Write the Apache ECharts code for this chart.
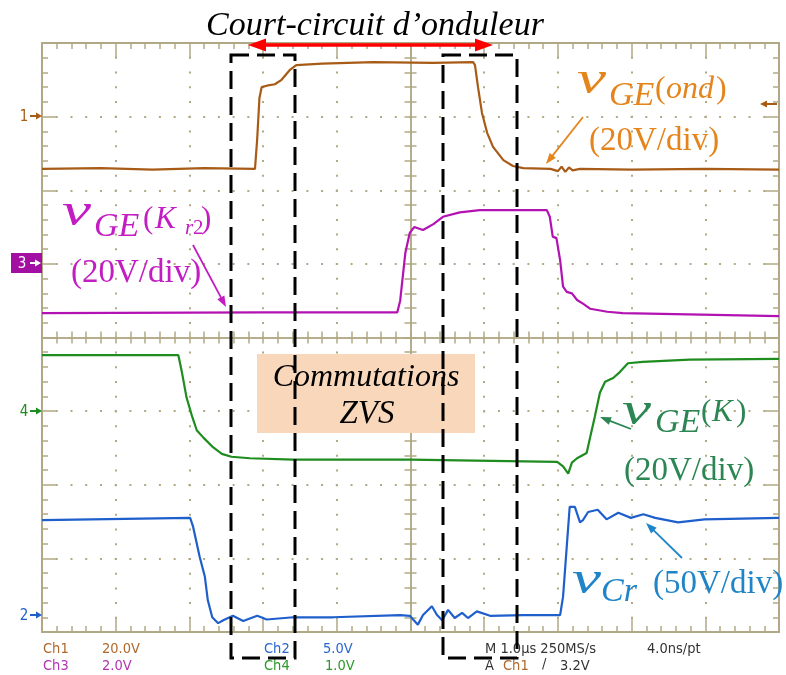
<!DOCTYPE html>
<html>
<head>
<meta charset="utf-8">
<script src="https://cdn.jsdelivr.net/npm/echarts@6/dist/echarts.min.js"></script>
<style>
  html, body { margin: 0; padding: 0; background: #fff; }
  #chart { width: 786px; height: 675px; }
</style>
</head>
<body>
<div id="chart"></div>
<script>
// x: time in us (1 us/div, trigger at 0), y: screen divisions from centre
const ch1 = [[-5, 2.29], [-4.2, 2.30], [-3.5, 2.28], [-2.8, 2.30], [-2.11, 2.29], [-2.08, 2.7], [-2.05, 3.25],
  [-2.02, 3.40], [-1.95, 3.42], [-1.84, 3.44], [-1.75, 3.50], [-1.64, 3.63], [-1.55, 3.70], [-1.2, 3.72],
  [-0.5, 3.74], [0.3, 3.73], [0.85, 3.74], [0.875, 3.70], [0.916, 3.40], [0.97, 3.05], [1.04, 2.78],
  [1.12, 2.59], [1.26, 2.41], [1.39, 2.33], [1.53, 2.30], [1.9, 2.29], [2.0, 2.26], [2.05, 2.32],
  [2.1, 2.25], [2.15, 2.31], [2.2, 2.27], [2.3, 2.29], [3, 2.28], [4, 2.29], [5, 2.28]];
const ch3 = [[-5, 0.33], [-2, 0.34], [-0.18, 0.34], [-0.14, 0.50], [-0.07, 1.15], [-0.01, 1.42], [0.05, 1.50],
  [0.17, 1.46], [0.31, 1.54], [0.44, 1.64], [0.67, 1.70], [0.94, 1.73], [1.85, 1.73], [1.89, 1.64],
  [1.93, 1.37], [1.98, 1.35], [2.03, 1.05], [2.07, 0.69], [2.12, 0.62], [2.19, 0.60], [2.26, 0.51],
  [2.34, 0.46], [2.44, 0.39], [2.67, 0.35], [2.88, 0.33], [5, 0.29]];
const ch4 = [[-5, -0.24], [-3.15, -0.24], [-3.10, -0.48], [-3.04, -0.81], [-2.97, -1.05], [-2.90, -1.26],
  [-2.81, -1.36], [-2.68, -1.49], [-2.56, -1.58], [-2.43, -1.62], [-2.18, -1.64], [-1.59, -1.66], [0, -1.66],
  [1.99, -1.69], [2.07, -1.75], [2.14, -1.85], [2.19, -1.70], [2.26, -1.64], [2.39, -1.57], [2.43, -1.39],
  [2.50, -1.08], [2.57, -0.75], [2.64, -0.60], [2.75, -0.55], [2.84, -0.47], [2.95, -0.35], [3.15, -0.33],
  [3.79, -0.30], [5, -0.29]];
const ch2 = [[-5, -2.48], [-2.99, -2.45], [-2.95, -2.57], [-2.86, -2.98], [-2.79, -3.25], [-2.75, -3.57],
  [-2.69, -3.80], [-2.61, -3.88], [-2.54, -3.84], [-2.41, -3.78], [-2.27, -3.85], [-2.08, -3.78],
  [-1.95, -3.83], [-1.59, -3.80], [-1.05, -3.80], [-0.14, -3.77], [-0.01, -3.78], [0.10, -3.90],
  [0.17, -3.77], [0.29, -3.65], [0.36, -3.77], [0.43, -3.84], [0.51, -3.70], [0.60, -3.81], [0.70, -3.74],
  [0.78, -3.81], [0.90, -3.72], [1.08, -3.78], [1.53, -3.77], [2.03, -3.77], [2.07, -3.52], [2.12, -2.84],
  [2.16, -2.30], [2.23, -2.30], [2.30, -2.51], [2.34, -2.48], [2.41, -2.37], [2.54, -2.34], [2.66, -2.47],
  [2.82, -2.38], [2.99, -2.45], [3.16, -2.40], [3.32, -2.45], [3.63, -2.51], [3.99, -2.47], [5, -2.45]];

const xRange = [-5, 5];
const yRange = [-4, 4];

const traceColors = ['#a75b16', '#1f5fcc', '#b312b3', '#1f8c1f'];
const traces = [ch1, ch2, ch3, ch4];

const gridColor = '#b1a985';
const SERIF = '"Liberation Serif", "Times New Roman", serif';
const SCOPE = '"DejaVu Sans Condensed", "DejaVu Sans", sans-serif';

let chart = echarts.init(document.getElementById('chart'));

function axis(isX, gridIndex, position, onZero, inside, len, minorLen, width) {
  let range = isX ? xRange : yRange;
  return {
    type: 'value', gridIndex: gridIndex, position: position,
    min: range[0], max: range[1], interval: 1,
    axisLine: { show: true, onZero: onZero, lineStyle: { color: gridColor, width: width } },
    axisTick: { show: true, inside: inside, length: len, lineStyle: { color: gridColor, width: 1.5 } },
    minorTick: { show: true, splitNumber: 5, length: minorLen, lineStyle: { color: gridColor, width: 1.5 } },
    axisLabel: { show: false },
    splitLine: { show: false }
  };
}
function dotted(a) {
  a.splitLine = { show: true, showMinLine: false, showMaxLine: false,
    lineStyle: { color: gridColor, width: 2, type: [2, 12.74], dashOffset: 1 } };
  return a;
}

// text placed by its baseline; sx stretches it horizontally
function txt(x, base, s, size, color, italic, align, family, sx) {
  return { type: 'text', z: 100, x: x, y: base - 0.26 * size, scaleX: sx || 1, style: {
    text: s, x: 0, y: 0,
    font: (italic ? 'italic ' : '') + size + 'px ' + (family || SERIF),
    fill: color, align: align || 'left', verticalAlign: 'middle' } };
}
function arrow(x1, y1, x2, y2, color, w, hl, hw) {
  let dx = x2 - x1, dy = y2 - y1, L = Math.hypot(dx, dy), ux = dx / L, uy = dy / L;
  let bx = x2 - ux * hl, by = y2 - uy * hl;
  return [
    { type: 'line', z: 100, shape: { x1: x1, y1: y1, x2: bx + ux, y2: by + uy }, style: { stroke: color, lineWidth: w } },
    { type: 'polygon', z: 100, shape: { points: [[x2, y2], [bx - uy * hw / 2, by + ux * hw / 2], [bx + uy * hw / 2, by - ux * hw / 2]] },
      style: { fill: color } }
  ];
}
function dashBox(x, y, w, h) {
  return { type: 'rect', z: 101, shape: { x: x, y: y, width: w, height: h },
    style: { fill: null, stroke: '#000', lineWidth: 3, lineDash: [18, 8] } };
}

const orange = '#e5841a', magenta = '#c21cc2', green = '#2c8653', blue = '#1f84c8';

let g = [];
// title + red double arrow
g.push(txt(375, 35, 'Court-circuit d\u2019onduleur', 34, '#000', true, 'center'));
g = g.concat(arrow(370, 45, 248, 45, '#ff0000', 3.5, 18, 13), arrow(370, 45, 493, 45, '#ff0000', 3.5, 18, 13));
// dashed windows
g.push(dashBox(231, 55, 64, 603), dashBox(443, 55, 74, 603));
// ZVS box
g.push({ type: 'rect', z: 99, shape: { x: 257, y: 354, width: 218, height: 79 }, style: { fill: '#f9d7bb' } });
g.push(txt(366, 386, 'Commutations', 32, '#000', true, 'center'));
g.push(txt(367, 423, 'ZVS', 33, '#000', true, 'center'));

// vGE(ond)
g.push(txt(577, 93, 'v', 46, orange, true, 'left', SERIF, 1.42));
g.push(txt(609, 105, 'GE', 34, orange, true));
g.push(txt(655, 98, '(', 32, orange, false));
g.push(txt(666, 98, 'ond', 32, orange, true));
g.push(txt(716, 98, ')', 32, orange, false));
g.push(txt(589, 150, '(20V/div)', 33, orange, false));
g = g.concat(arrow(583, 117, 546, 164, orange, 1.8, 11, 8));

// vGE(Kr2)
g.push(txt(62, 225, 'v', 46, magenta, true, 'left', SERIF, 1.42));
g.push(txt(94, 236, 'GE', 34, magenta, true));
g.push(txt(143, 228, '(', 31, magenta, false));
g.push(txt(155, 228, 'K', 31, magenta, true));
g.push(txt(185, 234, 'r', 21, magenta, true));
g.push(txt(193, 234, '2', 21, magenta, false));
g.push(txt(201, 228, ')', 31, magenta, false));
g.push(txt(71, 282, '(20V/div)', 33, magenta, false));
g = g.concat(arrow(193, 245, 226, 307, magenta, 1.8, 11, 8));

// vGE(K)
g.push(txt(622, 424, 'v', 46, green, true, 'left', SERIF, 1.42));
g.push(txt(655, 432, 'GE', 34, green, true));
g.push(txt(701, 421, '(', 31, green, false));
g.push(txt(712, 421, 'K', 31, green, true));
g.push(txt(736, 421, ')', 31, green, false));
g.push(txt(624, 480, '(20V/div)', 33, green, false));
g = g.concat(arrow(631, 429, 600, 417, green, 1.8, 11, 8));

// vCr
g.push(txt(572, 593, 'v', 46, blue, true, 'left', SERIF, 1.42));
g.push(txt(601, 601, 'Cr', 34, blue, true));
g.push(txt(653, 593, '(50V/div)', 33, blue, false));
g = g.concat(arrow(682, 558, 646, 523, blue, 1.8, 11, 8));

// channel markers
const markers = [['1', 116, '#a75b16'], ['4', 411, '#1f8c1f'], ['2', 615, '#1f5fcc']];
markers.forEach(function (m) {
  g.push(txt(24, m[1] + 5, m[0], 15, m[2], false, 'center', SCOPE));
  g = g.concat(arrow(30, m[1], 42, m[1], m[2], 2, 6, 7));
});
g.push({ type: 'rect', z: 100, shape: { x: 11, y: 253, width: 31, height: 20 }, style: { fill: '#a30fa3' } });
g.push(txt(22, 268, '3', 15, '#fff', false, 'center', SCOPE));
g = g.concat(arrow(30, 263, 41, 263, '#fff', 2, 6, 7));
g = g.concat(arrow(777, 104, 760, 104, '#a75b16', 2, 7, 7));

// scope readout
const readout = [
  ['Ch1', 43, 653, '#b0692c'], ['20.0V', 102, 653, '#b0692c'],
  ['Ch3', 43, 670, '#b234b2'], ['2.0V', 102, 670, '#b234b2'],
  ['Ch2', 264, 653, '#2a66d0'], ['5.0V', 323, 653, '#2a66d0'],
  ['Ch4', 264, 670, '#2a9a2a'], ['1.0V', 325, 670, '#2a9a2a'],
  ['M 1.0\u00b5s 250MS/s', 485, 653, '#333'], ['4.0ns/pt', 647, 653, '#333'],
  ['A', 485, 670, '#333'], ['Ch1', 503, 670, '#b0692c'], ['/', 542, 668, '#333'], ['3.2V', 560, 670, '#333']
];
readout.forEach(function (r) { g.push(txt(r[1], r[2], r[0], 14.5, r[3], false, 'left', SCOPE)); });

let option = {
  backgroundColor: '#fff',
  animation: false,
  grid: [
    { left: 42, top: 43, width: 737, height: 589 },
    { left: 42, top: 43, width: 737, height: 589 }
  ],
  xAxis: [
    dotted(axis(true, 0, 'bottom', false, true, 14, 6, 2)),
    axis(true, 0, 'top', false, true, 14, 6, 2),
    axis(true, 1, 'bottom', true, false, 6, 6, 1.5),
    axis(true, 1, 'top', true, false, 6, 6, 1.5)
  ],
  yAxis: [
    dotted(axis(false, 0, 'left', false, true, 14, 6, 2)),
    axis(false, 0, 'right', false, true, 14, 6, 2),
    axis(false, 1, 'left', true, false, 6, 6, 1.5),
    axis(false, 1, 'right', true, false, 6, 6, 1.5)
  ],
  series: traces.map(function (d, i) {
    return {
      type: 'line', xAxisIndex: 0, yAxisIndex: 0, data: d,
      showSymbol: false, symbol: 'none', silent: true, z: 5,
      lineStyle: { color: traceColors[i], width: 2.2 }, itemStyle: { color: traceColors[i] }
    };
  }),
  graphic: g
};
chart.setOption(option);
</script>
</body>
</html>
